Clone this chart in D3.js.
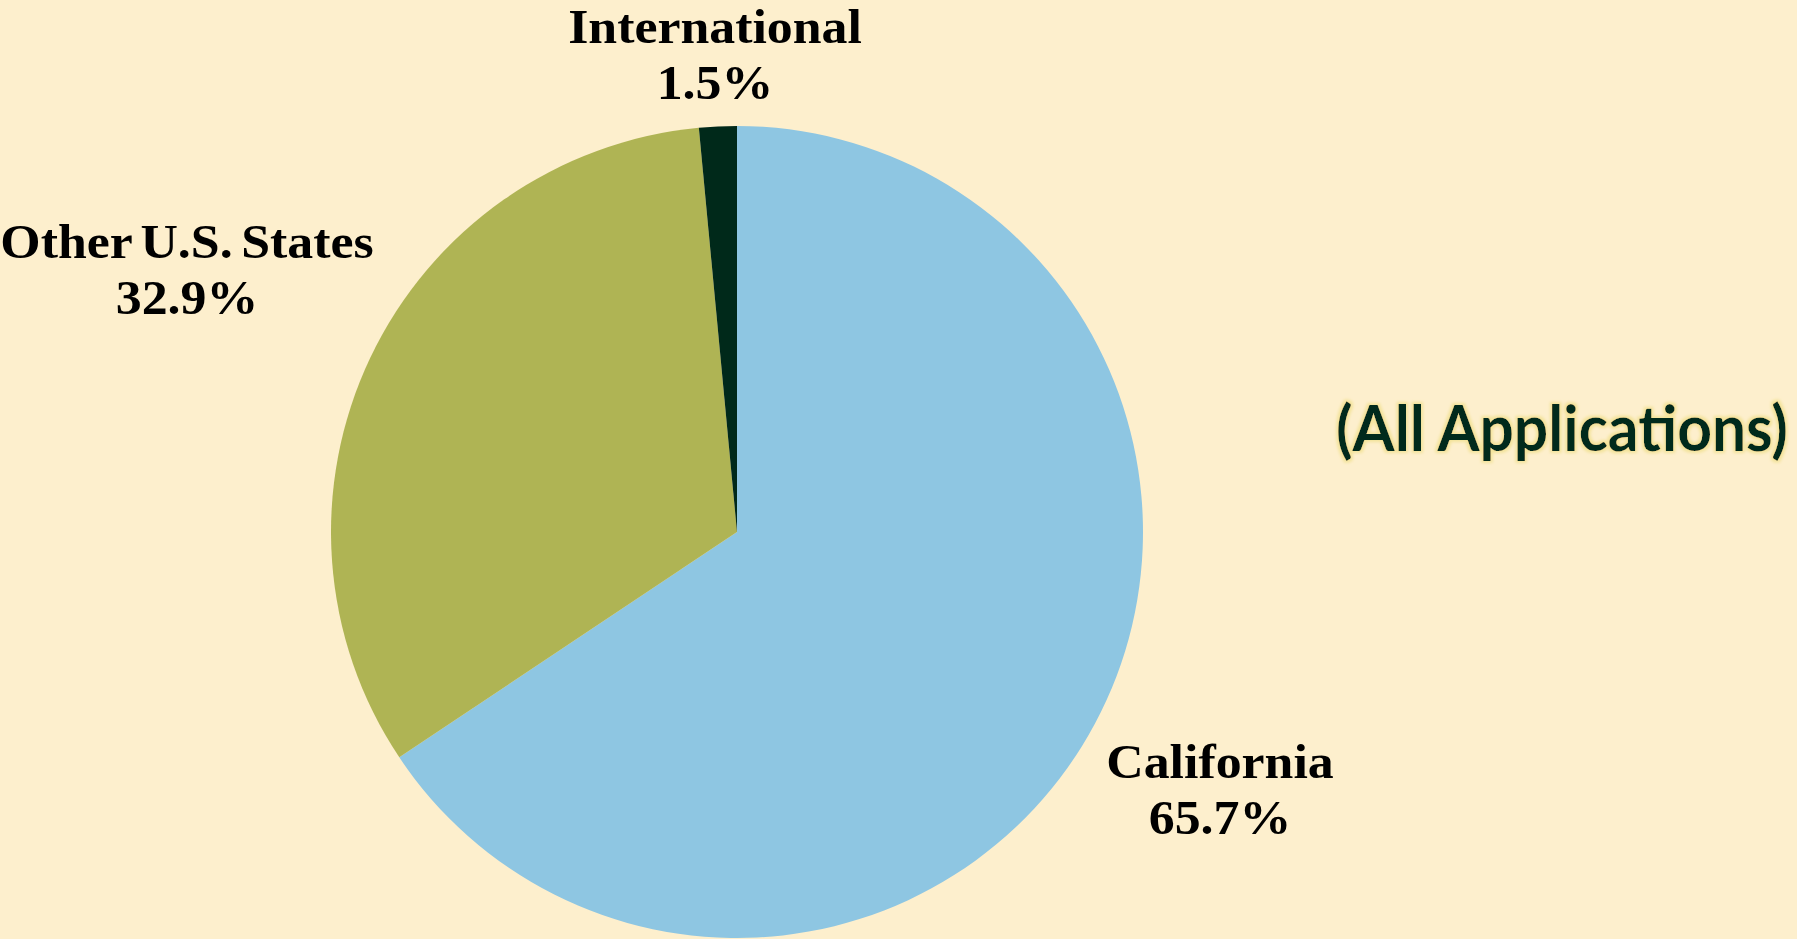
<!DOCTYPE html>
<html>
<head>
<meta charset="utf-8">
<script src="https://cdn.jsdelivr.net/npm/d3@7"></script>
<style>
  html, body { margin: 0; padding: 0; background: #fdefcd; }
  svg { display: block; }
  .label { font-family: "Liberation Serif", "DejaVu Serif", serif; font-weight: bold; font-size: 48px; fill: #000; word-spacing: -4px; }
  .title { font-family: Lato, "Open Sans", sans-serif; font-weight: bold; font-size: 64px; fill: #00291a; }
</style>
</head>
<body>
<div class="chart"></div>
<script>
const categories = ['California', 'Other U.S. States', 'International'];
const shares = [65.7, 32.9, 1.5];
const shareLabels = ['65.7%', '32.9%', '1.5%'];
const colors = ['#8ec6e2', '#afb454', '#00291a'];
const title = '(All Applications)';

const width = 1797;
const height = 939;
const cx = 737;
const cy = 532;
const radius = 406;

// label anchor points (text centre x, first baseline y)
const labelPos = [
  [1220, 778],
  [187, 258],
  [715, 43],
];
const lineGap = 56;

const svg = d3.select('.chart').append('svg')
  .attr('width', width)
  .attr('height', height);

svg.append('rect')
  .attr('width', width)
  .attr('height', height)
  .attr('fill', '#fdefcd');

const defs = svg.append('defs');
const glow = defs.append('filter').attr('id', 'glow')
  .attr('x', '-3%').attr('y', '-30%').attr('width', '106%').attr('height', '160%');
glow.append('feMorphology').attr('in', 'SourceAlpha').attr('operator', 'dilate').attr('radius', 1.5).attr('result', 'thick');
glow.append('feGaussianBlur').attr('in', 'thick').attr('stdDeviation', 1.5).attr('result', 'blur');
glow.append('feFlood').attr('flood-color', '#f3e39a');
glow.append('feComposite').attr('in2', 'blur').attr('operator', 'in').attr('result', 'halo');
const merge = glow.append('feMerge');
merge.append('feMergeNode').attr('in', 'halo');
merge.append('feMergeNode').attr('in', 'SourceGraphic');

const data = categories.map((name, i) => ({name, value: shares[i], label: shareLabels[i], color: colors[i]}));

const total = d3.sum(shares);
const pie = d3.pie()
  .sort(null)
  .value((d) => d.value / total);
const arc = d3.arc().innerRadius(0).outerRadius(radius);

const g = svg.append('g').attr('transform', `translate(${cx},${cy})`);

g.selectAll('path')
  .data(pie(data))
  .enter().append('path')
  .attr('d', arc)
  .attr('fill', (d) => d.data.color);

// Cambria-like width: stretch the serif labels a little
const labels = svg.selectAll('.label')
  .data(data)
  .enter().append('text')
  .attr('class', 'label')
  .attr('text-anchor', 'middle')
  .attr('transform', (d, i) => `translate(${labelPos[i][0]},${labelPos[i][1]}) scale(1.08,1)`);

labels.append('tspan').attr('x', 0).attr('y', 0).text((d) => d.name);
labels.append('tspan').attr('x', 0).attr('y', lineGap).text((d) => d.label);

svg.append('text')
  .attr('class', 'title')
  .attr('x', 1562)
  .attr('y', 451)
  .attr('text-anchor', 'middle')
  .attr('textLength', 452)
  .attr('lengthAdjust', 'spacingAndGlyphs')
  .attr('filter', 'url(#glow)')
  .text(title);
</script>
</body>
</html>
